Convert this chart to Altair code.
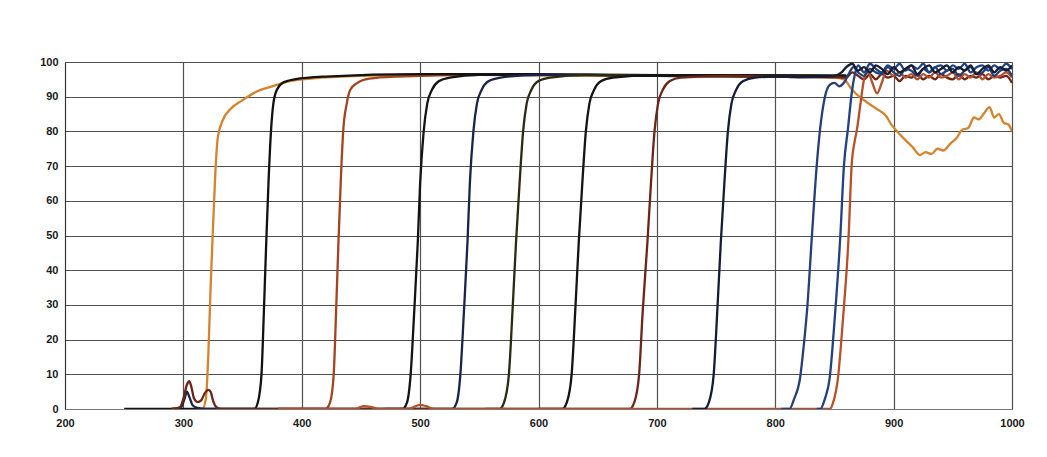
import altair as alt
import pandas as pd

# ---- data: (wavelength nm, transmission %) ----
orange_nm = [310, 316, 319, 321, 323, 325, 327, 329, 333, 340, 350, 362, 375, 390, 410, 450, 500, 600, 700, 800, 850, 858, 865, 871, 877, 882, 888, 894, 898, 903, 910, 916, 922, 927, 932, 937, 942, 948, 953, 958, 963, 968, 972, 976, 981, 985, 989, 993, 997, 1000]
orange_t = [0, 0, 3, 15, 35, 52, 68, 78, 83, 86.5, 89, 91.5, 93, 94.5, 95.3, 96, 96.3, 96.3, 96, 95.8, 95.5, 95, 92, 90, 88.5, 87.3, 86, 84.3, 82, 80, 77.5, 75.5, 73.2, 74, 73.5, 75, 74.5, 76.5, 78, 80.5, 81, 84, 83.5, 85, 87, 84, 85, 82.5, 82, 80]

black371_nm = [250, 360, 363, 366, 368, 370, 372, 374, 376, 379, 384, 394, 420, 500, 600, 700, 800, 860]
black371_t = [0, 0, 2, 10, 28, 48, 66, 80, 88, 92, 94, 95, 95.8, 96.5, 96.5, 96, 95.8, 96]

brown433_nm = [380, 420, 424, 427, 429, 431, 433, 435, 438, 441, 447, 457, 480, 550, 700, 860]
brown433_t = [0, 0, 2, 10, 28, 48, 66, 80, 88, 92, 94, 95.2, 95.8, 96.3, 96, 95.8]

black498_nm = [470, 485, 489, 492, 495, 498, 500, 503, 506, 510, 516, 525, 550, 700, 860]
black498_t = [0, 0, 2, 10, 28, 48, 65, 80, 88, 92, 94.5, 95.5, 96.3, 96.2, 96]

navy540_nm = [290, 298, 301, 303, 305, 308, 312, 318, 527, 531, 534, 537, 540, 542, 545, 548, 552, 558, 568, 600, 860]
navy540_t = [0, 0.5, 3, 5, 3.5, 1, 0.3, 0, 0, 2, 10, 28, 48, 65, 80, 88, 92, 94.5, 95.5, 96.3, 96]

olive581_nm = [555, 567, 571, 575, 578, 581, 584, 587, 590, 594, 600, 610, 640, 860]
olive581_t = [0, 0, 2, 10, 28, 48, 65, 80, 88, 92, 94.5, 95.5, 96.3, 96]

black634_nm = [600, 620, 624, 628, 631, 634, 637, 640, 643, 647, 653, 663, 700, 860]
black634_t = [0, 0, 2, 10, 28, 48, 65, 80, 88, 92, 94.5, 95.5, 96.2, 96]

brown692_nm = [290, 297, 300, 303, 305, 307, 309, 312, 315, 318, 321, 323, 325, 328, 332, 677, 681, 685, 688, 692, 695, 698, 701, 705, 711, 720, 760, 800, 850, 860, 865, 870, 875, 880, 885, 890, 895, 900, 905, 910, 915, 920, 925, 930, 935, 940, 945, 950, 955, 960, 965, 970, 975, 980, 985, 990, 995, 1000]
brown692_t = [0, 0.5, 3, 7, 8, 6, 3, 2, 2.5, 4.5, 5.5, 5, 2.5, 0.5, 0, 0, 2, 10, 28, 48, 65, 80, 88, 92, 94.5, 95.5, 96, 95.8, 95.6, 95.5, 97, 96, 95, 96.5, 95, 96.5, 95.5, 96, 94.5, 96, 95.5, 96.5, 95, 96, 95, 96.5, 95.5, 95, 96.5, 95, 96, 95.5, 96.5, 95, 96, 95.5, 96, 94]

navy754_nm = [730, 740, 744, 748, 751, 754, 757, 760, 763, 767, 773, 783, 800, 820, 840, 850, 856, 860, 865, 870, 875, 880, 885, 890, 895, 900, 905, 910, 915, 920, 925, 930, 935, 940, 945, 950, 955, 960, 965, 970, 975, 980, 985, 990, 995, 1000]
navy754_t = [0, 0, 2, 10, 28, 48, 65, 80, 88, 92, 94.5, 95.5, 95.8, 95.6, 95.7, 96, 97, 98.5, 99.5, 97.5, 98.5, 97, 99, 98, 96.5, 98.5, 97, 98, 99, 96.5, 98, 99, 97, 98, 99, 97, 98.5, 97.5, 99, 96.5, 98, 99, 97, 98.5, 97.5, 99]

navy833_nm = [805, 812, 816, 821, 824, 827, 831, 835, 838, 842, 846, 850, 854, 858, 862, 866, 870, 875, 880, 885, 890, 895, 900, 905, 910, 915, 920, 925, 930, 935, 940, 945, 950, 955, 960, 965, 970, 975, 980, 985, 990, 995, 1000]
navy833_t = [0, 0, 3, 9, 18, 29, 50, 70, 81, 90, 93.4, 94, 93, 94, 96.5, 98.5, 97, 96, 98, 97, 96.5, 98.5, 97, 96, 98, 97.5, 96, 98, 97, 98.5, 96.5, 97.5, 98, 96, 97.5, 98.5, 96.5, 97, 98.5, 96, 97.5, 98, 96]

navy857_nm = [835, 838, 842, 846, 850, 855, 858, 861.5, 864.6, 867, 870, 875, 880, 885, 890, 895, 900, 905, 910, 915, 920, 925, 930, 935, 940, 945, 950, 955, 960, 965, 970, 975, 980, 985, 990, 995, 1000]
navy857_t = [0, 0, 3, 9, 25, 50, 70, 81, 91, 96, 99, 97, 99.5, 98, 97, 99, 98, 99.5, 97.5, 99, 98, 99.5, 97, 98.5, 99, 97.5, 99, 98, 99.5, 97, 98.5, 99, 97.5, 99, 98, 99.5, 98]

red864_nm = [380, 445, 452, 458, 465, 490, 496, 500, 505, 512, 846, 849, 853, 857, 862, 864.5, 867, 869, 872, 875, 878, 882, 886, 890, 894, 900, 905, 910, 915, 920, 925, 930, 935, 940, 945, 950, 955, 960, 965, 970, 975, 980, 985, 990, 995, 1000]
red864_t = [0, 0, 0.8, 0.6, 0, 0, 0.8, 1.2, 0.8, 0, 0, 2, 9, 25, 50, 70, 77, 80.5, 88, 95, 97.5, 94, 91, 94, 97.5, 96, 97, 95.5, 96.5, 95, 96.5, 95.5, 97, 95.5, 96, 97, 95, 96.5, 95.5, 97, 95, 96.5, 95.5, 96, 97, 95.5]

curve_names = ["orange", "brown433", "black371", "black498", "navy540", "olive581",
               "black634", "brown692", "red864", "navy833", "navy857", "navy754"]
curve_colors = ["#d4832f", "#a3431f", "#121212", "#141414", "#1b2448", "#2c2a12",
                "#141414", "#6b2617", "#b5502a", "#273f77", "#21427f", "#161c33"]
curve_data = {
    "orange": (orange_nm, orange_t),
    "black371": (black371_nm, black371_t),
    "brown433": (brown433_nm, brown433_t),
    "black498": (black498_nm, black498_t),
    "navy540": (navy540_nm, navy540_t),
    "olive581": (olive581_nm, olive581_t),
    "black634": (black634_nm, black634_t),
    "brown692": (brown692_nm, brown692_t),
    "navy754": (navy754_nm, navy754_t),
    "navy833": (navy833_nm, navy833_t),
    "navy857": (navy857_nm, navy857_t),
    "red864": (red864_nm, red864_t),
}

x_ticks = list(range(200, 1001, 100))
y_ticks = list(range(0, 101, 10))

x_enc = alt.X(
    "nm:Q",
    scale=alt.Scale(domain=[200, 1000], nice=False, zero=False),
    axis=alt.Axis(values=x_ticks, title=None, grid=True, gridColor="#505050", gridWidth=1.2,
                  tickSize=0, labelPadding=8, labelFlush=False, domainColor="#777777",
                  labelFontSize=11, labelFont="Liberation Sans", labelFontWeight="bold",
                  labelColor="#1a1a1a", format="d"),
)
y_enc = alt.Y(
    "t:Q",
    scale=alt.Scale(domain=[0, 100], nice=False),
    axis=alt.Axis(values=y_ticks, title=None, grid=True, gridColor="#505050", gridWidth=1.2,
                  tickSize=0, labelPadding=7, domainColor="#333333",
                  labelFontSize=11, labelFont="Liberation Sans", labelFontWeight="bold",
                  labelColor="#1a1a1a", format="d"),
)

layers = []
for name, color in zip(curve_names, curve_colors):
    nm, t = curve_data[name]
    df = pd.DataFrame({"nm": nm, "t": t})
    layers.append(
        alt.Chart(df).mark_line(color=color, strokeWidth=2.3, interpolate="monotone", clip=True)
        .encode(x=x_enc, y=y_enc)
    )

chart = alt.layer(*layers).properties(
    width=947, height=347,
    autosize=alt.AutoSizeParams(type="none"),
    padding={"left": 57, "top": 54, "right": 27, "bottom": 40},
).configure_view(stroke="#999999", strokeWidth=1).configure(background="white")

chart.save("out.html", embed_options={"renderer": "svg", "actions": False})
